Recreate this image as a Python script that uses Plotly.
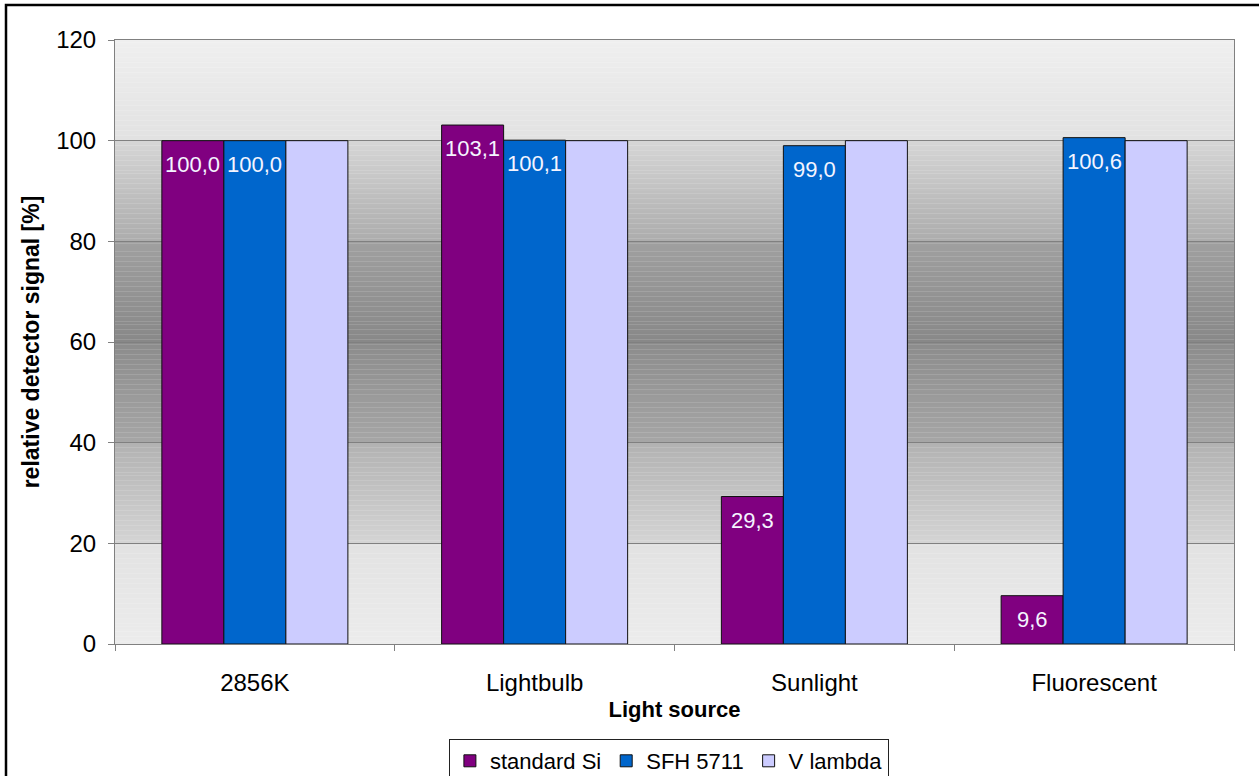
import plotly.graph_objects as go

# ---- data ----
categories = ["2856K", "Lightbulb", "Sunlight", "Fluorescent"]
series_names = ["standard Si", "SFH 5711", "V lambda"]
standard_si = [100.0, 103.1, 29.3, 9.6]
sfh_5711 = [100.0, 100.1, 99.0, 100.6]
v_lambda = [100.0, 100.0, 100.0, 100.0]
label_series = [True, True, False]   # which series show value labels
y_ticks = [0, 20, 40, 60, 80, 100, 120]

series_values = [standard_si, sfh_5711, v_lambda]
colors = ["#800080", "#0066cc", "#ccccff"]

FONT = "Liberation Sans, Arial, sans-serif"
BARGAP = 0.335

fig = go.Figure()
for name, vals, col in zip(series_names, series_values, colors):
    fig.add_trace(go.Bar(
        x=categories, y=vals, name=name,
        marker=dict(color=col, line=dict(color="#111111", width=1)),
        hoverinfo="x+y+name",
    ))

# value labels inside top of bars (comma decimal)
n = len(series_names)
bw = (1 - BARGAP) / n
annotations = []
for k, (vals, show) in enumerate(zip(series_values, label_series)):
    if not show:
        continue
    for i, v in enumerate(vals):
        annotations.append(dict(
            x=i + (k - (n - 1) / 2) * bw, y=v, xref="x", yref="y",
            text=f"{v:.1f}".replace(".", ","), showarrow=False,
            yanchor="top", yshift=-9,
            font=dict(family=FONT, size=22, color="#f4f4ff"),
        ))

# background: banded vertical gradient (per gridline interval)
band_stops = [  # (top colour, bottom colour) per 20-unit band, from bottom band up
    ("#e2e2e2", "#ececec"),
    ("#b2b2b2", "#d4d4d4"),
    ("#8c8c8c", "#a6a6a6"),
    ("#a0a0a0", "#888888"),
    ("#d6d6d6", "#acacac"),
    ("#efefef", "#e2e2e2"),
]

def hx(c):
    return int(c[1:3], 16)

shapes = []
step = 0.5
for b, (top, bot) in enumerate(band_stops):
    lo = b * 20
    nsteps = int(20 / step)
    for s in range(nsteps):
        y0 = lo + s * step
        t = (s + 0.5) / nsteps  # 0 at bottom, 1 at top
        g = round(hx(bot) + (hx(top) - hx(bot)) * t)
        shapes.append(dict(
            type="rect", xref="paper", yref="y", x0=0, x1=1, y0=y0, y1=y0 + step + 0.05,
            fillcolor=f"rgb({g},{g},{g})", line=dict(width=0), layer="below",
        ))

# outer frame (right/bottom edges lie outside the picture)
L, R, T, B = 115, 25, 40, 132
W, H = 1259, 776
pw, ph = W - L - R, H - T - B
shapes.append(dict(
    type="rect", xref="paper", yref="paper",
    x0=(6 - L) / pw, x1=1.05, y0=-0.3, y1=(H - B - 5) / ph,
    line=dict(color="black", width=2.5), fillcolor="rgba(0,0,0,0)", layer="above",
))

fig.update_layout(
    width=W, height=H,
    margin=dict(l=L, r=R, t=T, b=B, autoexpand=False),
    paper_bgcolor="white", plot_bgcolor="rgba(0,0,0,0)",
    barmode="group", bargap=BARGAP, bargroupgap=0,
    font=dict(family=FONT, color="black"),
    showlegend=True,
    legend=dict(
        orientation="h", x=0.495, xanchor="center", y=-(739 - (H - B)) / ph, yanchor="top",
        bordercolor="#222222", borderwidth=1, bgcolor="white",
        font=dict(family=FONT, size=22, color="black"),
        itemwidth=30, traceorder="normal",
    ),
    shapes=shapes,
    annotations=annotations,
)

fig.update_xaxes(
    type="category", tickson="boundaries",
    showline=True, linecolor="#808080", linewidth=1, mirror=True,
    ticks="outside", ticklen=6, tickcolor="#808080",
    showgrid=False,
    tickfont=dict(family=FONT, size=24, color="black"),
    ticklabelstandoff=17,
    title=dict(text="<b>Light source</b>", font=dict(family=FONT, size=22, color="black"), standoff=6),
)
fig.update_yaxes(
    range=[0, 120], tickvals=y_ticks,
    showline=True, linecolor="#808080", linewidth=1, mirror=True,
    ticks="outside", ticklen=6, tickcolor="#808080",
    showgrid=True, gridcolor="#808080", gridwidth=1,
    zeroline=False,
    tickfont=dict(family=FONT, size=24, color="black"),
    ticklabelstandoff=7,
    title=dict(text="<b>relative detector signal [%]</b>", font=dict(family=FONT, size=23, color="black"), standoff=10),
)

fig.write_html(
    "out.html",
    config={"displayModeBar": False},
    post_script="document.body.style.margin='0';document.body.style.overflow='hidden';",
)
